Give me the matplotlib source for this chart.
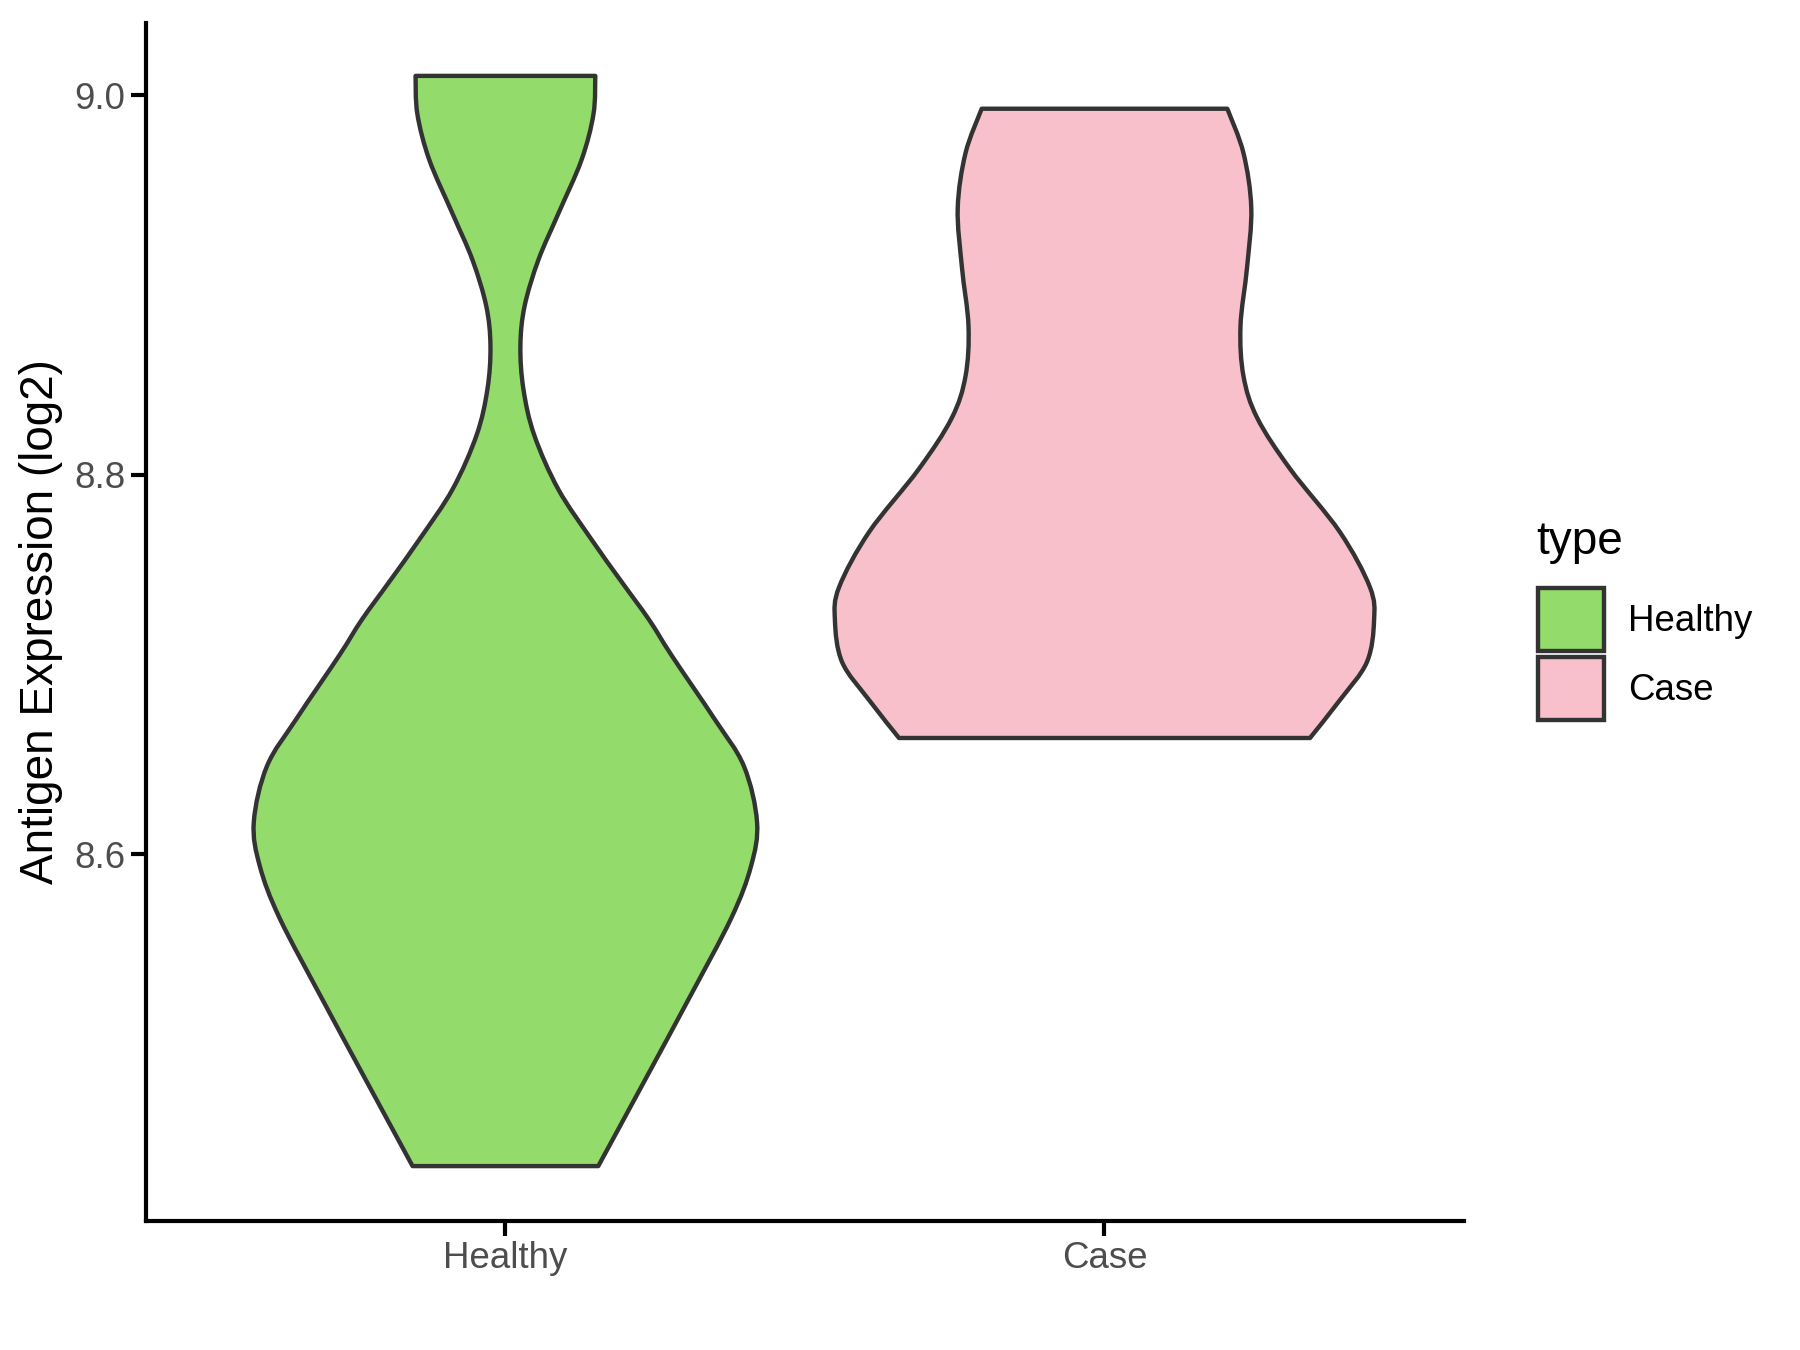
import matplotlib
matplotlib.use("Agg")
import matplotlib.pyplot as plt
from matplotlib.patches import Patch, PathPatch
from matplotlib.path import Path
import numpy as np

plt.rcParams['font.family'] = ['Liberation Sans', 'DejaVu Sans']

categories = ["Healthy", "Case"]
colors = {"Healthy": "#93DB6B", "Case": "#F8C0CB"}

# violin outline: expression value and half width
healthy_y = [9.0102, 8.9901, 8.9659, 8.9374, 8.9132, 8.8889, 8.8679, 8.8452,
             8.8210, 8.7925, 8.7662, 8.7440, 8.7235, 8.7050, 8.6718, 8.6465,
             8.6170, 8.5938, 8.5664, 8.5232, 8.4805, 8.4357]
healthy_w = [0.150, 0.147, 0.127, 0.088, 0.055, 0.032, 0.025, 0.030,
             0.048, 0.088, 0.143, 0.193, 0.240, 0.277, 0.348, 0.398,
             0.420, 0.410, 0.377, 0.305, 0.232, 0.155]

case_y = [8.9929, 8.9695, 8.9405, 8.9094, 8.8783, 8.8520, 8.8299, 8.8030,
          8.7698, 8.7408, 8.7234, 8.7013, 8.6813, 8.6613]
case_w = [0.205, 0.232, 0.245, 0.238, 0.227, 0.232, 0.255, 0.310,
          0.393, 0.443, 0.450, 0.438, 0.393, 0.343]

profiles = {"Healthy": (healthy_y, healthy_w), "Case": (case_y, case_w)}


def smooth_side(pts):
    # cubic bezier segments passing through the read points (catmull-rom)
    verts, codes = [], []
    n = len(pts)
    for k in range(n - 1):
        p0 = pts[max(k - 1, 0)]
        p1 = pts[k]
        p2 = pts[k + 1]
        p3 = pts[min(k + 2, n - 1)]
        c1 = p1 + (p2 - p0) / 6.0
        c2 = p2 - (p3 - p1) / 6.0
        verts += [c1, c2, p2]
        codes += [Path.CURVE4] * 3
    return verts, codes


fig = plt.figure(figsize=(6, 4.5), dpi=300)
ax = fig.add_axes([0.0811, 0.0956, 0.7322, 0.8874])

for i, cat in enumerate(categories):
    ys, ws = profiles[cat]
    ys = np.array(ys)
    ws = np.array(ws)
    pos = i + 1
    left = np.column_stack([pos - ws, ys])
    right = np.column_stack([pos + ws, ys])[::-1]
    verts = [left[0]]
    codes = [Path.MOVETO]
    v, c = smooth_side(left)
    verts += v
    codes += c
    verts.append(right[0])
    codes.append(Path.LINETO)
    v, c = smooth_side(right)
    verts += v
    codes += c
    verts.append(left[0])
    codes.append(Path.CLOSEPOLY)
    patch = PathPatch(Path(np.array(verts), codes), facecolor=colors[cat],
                      edgecolor="#333333", linewidth=1.05, joinstyle="round", zorder=2)
    ax.add_patch(patch)

ax.set_xlim(0.4, 2.6)
ax.set_ylim(8.4068, 9.0381)
ax.set_xticks([1, 2])
ax.set_xticklabels(categories)
ax.set_yticks([8.6, 8.8, 9.0])
ax.set_yticklabels(["8.6", "8.8", "9.0"])

for s in ["top", "right"]:
    ax.spines[s].set_visible(False)
for s in ["left", "bottom"]:
    ax.spines[s].set_linewidth(1.0)
    ax.spines[s].set_color("black")
ax.tick_params(axis="both", length=3.5, width=1.0, color="black",
               labelsize=8.8, labelcolor="#4D4D4D")
ax.tick_params(axis="x", pad=1.2)
ax.tick_params(axis="y", pad=1.5)

ax.set_ylabel("Antigen Expression (log2)", fontsize=11)
ax.yaxis.set_label_coords(-0.063, 0.5)

handles = [Patch(facecolor=colors[c], edgecolor="#333333", linewidth=1.05, label=c)
           for c in categories]
leg = fig.legend(handles=handles, loc="center left",
                 bbox_to_anchor=(0.8544, 0.5156), frameon=False, fontsize=8.8,
                 handlelength=1.8, handleheight=2.28, borderpad=0, borderaxespad=0,
                 labelspacing=0.15, handletextpad=0.65)
fig.text(0.8533, 0.5985, "type", fontsize=11, ha="left", va="center")

fig.savefig("out.png", dpi=300)
